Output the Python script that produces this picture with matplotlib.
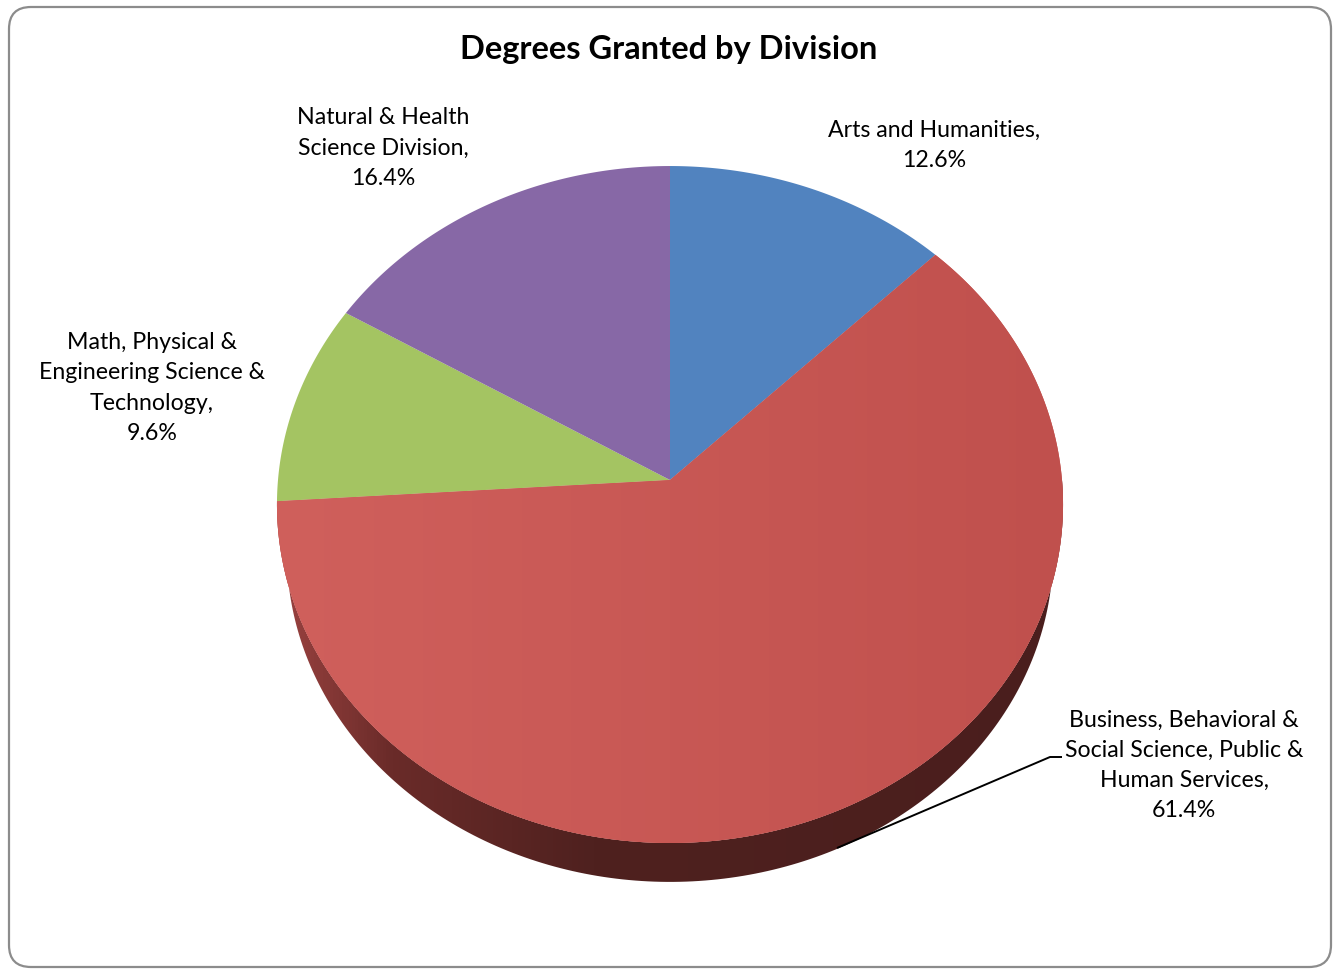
import matplotlib
matplotlib.use('Agg')
import matplotlib.pyplot as plt
import numpy as np
from matplotlib.patches import FancyBboxPatch, Polygon
from matplotlib.colors import LinearSegmentedColormap

# data
divisions = ['Arts and Humanities',
             'Business, Behavioral &\nSocial Science, Public &\nHuman Services',
             'Math, Physical &\nEngineering Science &\nTechnology',
             'Natural & Health\nScience Division']
shares = [12.6, 61.4, 9.6, 16.4]
colors = ['#5183bf', '#c5534f', '#a4c462', '#8768a6']
title = 'Degrees Granted by Division'

# figure in pixel coordinates
W, H = 1338, 971
fig = plt.figure(figsize=(W / 100, H / 100), dpi=100)
ax = fig.add_axes([0, 0, 1, 1])
ax.set_xlim(0, W)
ax.set_ylim(H, 0)
ax.axis('off')

# outer rounded border
ax.add_patch(FancyBboxPatch((9, 7), 1322, 960, boxstyle='round,pad=0,rounding_size=22',
                            fc='white', ec='#8c8c8c', lw=1.6, zorder=0))

# perspective pie geometry
cx, cy = 670, 480
rx, ry, k = 392, 336.7, 0.0724
depth, shrink = 48, 0.975


def proj(theta_deg, r=1.0, s=1.0, dy=0.0):
    t = np.radians(theta_deg)
    u, v = r * np.cos(t), r * np.sin(t)
    den = 1 + k * v
    return cx + s * rx * u / den, cy - s * ry * v / den + dy


# angles: start at 12 o'clock, go clockwise
fr = np.array(shares) / np.sum(shares)
ends = 90 - 360 * np.cumsum(fr)
starts = np.concatenate([[90], ends[:-1]])

# side wall of the big slice (visible lower half)
red_i = 1
th = np.linspace(ends[red_i] + 360, 360, 200)
tx, ty = proj(th)
bx, by = proj(th[::-1], s=shrink, dy=depth)
side = Polygon(np.column_stack([np.r_[tx, bx], np.r_[ty, by]]), closed=True,
               fc='none', ec='none', zorder=1)
ax.add_patch(side)
side_cmap = LinearSegmentedColormap.from_list('side', [(0, '#9e4442'), (0.15, '#6a2b29'),
                                                       (0.4, '#4f211f'), (1, '#4a1e1d')])
grad = np.linspace(0, 1, 256).reshape(1, -1)
im = ax.imshow(grad, cmap=side_cmap, extent=(270, 1075, 920, 470), aspect='auto', zorder=1)
im.set_clip_path(side)

# top faces
for i, (s0, s1) in enumerate(zip(starts, ends)):
    th = np.linspace(s0, s1, 300)
    x, y = proj(th)
    poly = Polygon(np.column_stack([np.r_[cx, x], np.r_[cy, y]]), closed=True,
                   fc=colors[i], ec='none', zorder=2)
    ax.add_patch(poly)
    if i == red_i:
        face_cmap = LinearSegmentedColormap.from_list('face', ['#d0605c', '#c0504d'])
        im2 = ax.imshow(grad, cmap=face_cmap, extent=(275, 1065, 850, 160),
                        aspect='auto', zorder=2.5)
        im2.set_clip_path(poly)

# leader line for the big slice
ax.plot([837, 1050, 1062], [848, 757, 757], color='black', lw=1.4, zorder=3,
        solid_capstyle='butt')

# labels
font = 'Lato'
pos = [(934, 145), (1184, 765), (152, 388), (383, 148)]
for name, val, (x, y) in zip(divisions, shares, pos):
    ax.text(x, y, f'{name},\n{val:.1f}%', ha='center', va='center', fontsize=16.7,
            family=font, linespacing=1.53, color='black', zorder=4)

ax.text(669, 49, title, ha='center', va='center', fontsize=23.5, fontweight='bold',
        family=font, color='black', zorder=4)

fig.savefig('out.png', dpi=100)
